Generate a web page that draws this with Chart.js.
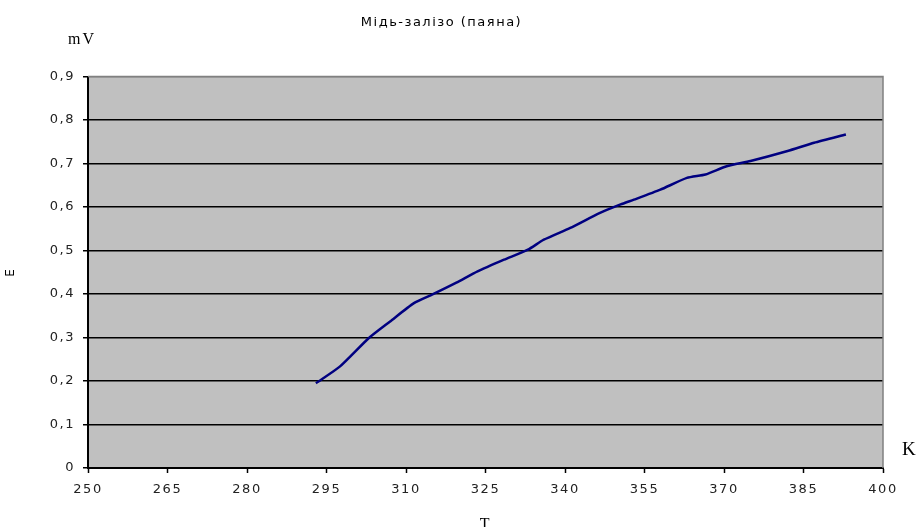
<!DOCTYPE html>
<html>
<head>
<meta charset="utf-8">
<script src="https://cdn.jsdelivr.net/npm/chart.js@4.4.0/dist/chart.umd.min.js"></script>
<style>
  html, body { margin: 0; padding: 0; background: #fff; }
  #wrap { width: 920px; height: 527px; }
</style>
</head>
<body>
<div id="wrap"><canvas id="chart" width="920" height="527"></canvas></div>
<script>
// Data
const temps = [293, 297.5, 303, 307, 311.5, 315, 319.5, 323.5, 328.5, 333, 336, 341, 346.5, 350.5, 353, 358, 363, 366.5, 370.5, 375, 382, 387, 393];
const emf = [0.195, 0.233, 0.299, 0.337, 0.379, 0.399, 0.426, 0.452, 0.479, 0.502, 0.525, 0.552, 0.586, 0.606, 0.617, 0.64, 0.667, 0.675, 0.694, 0.706, 0.729, 0.748, 0.767];
const xTicks = [250, 265, 280, 295, 310, 325, 340, 355, 370, 385, 400];
const yTickLabels = ['0', '0,1', '0,2', '0,3', '0,4', '0,5', '0,6', '0,7', '0,8', '0,9'];

// old-style wide text spacing
const spacing = {
  id: 'spacing',
  beforeLayout(chart) { chart.ctx.letterSpacing = '1.5px'; },
  beforeDraw(chart) { chart.ctx.letterSpacing = '1.5px'; }
};

// grey plot background, grey frame top/right, unit labels
const plotDecor = {
  id: 'plotDecor',
  beforeDraw(chart) {
    const { ctx, chartArea: a } = chart;
    ctx.save();
    ctx.fillStyle = '#c0c0c0';
    ctx.fillRect(a.left, a.top, a.right - a.left, a.bottom - a.top);
    ctx.restore();
  },
  afterDraw(chart) {
    const { ctx, chartArea: a } = chart;
    ctx.save();
    ctx.strokeStyle = '#808080';
    ctx.lineWidth = 1.5;
    ctx.beginPath();
    ctx.moveTo(a.left, a.top);
    ctx.lineTo(a.right, a.top);
    ctx.lineTo(a.right, a.bottom);
    ctx.stroke();
    ctx.fillStyle = '#000';
    ctx.textBaseline = 'middle';
    ctx.letterSpacing = '2px';
    ctx.font = '16px "Liberation Serif"';
    ctx.fillText('mV', 68, 40);
    ctx.font = '19px "Liberation Serif"';
    ctx.fillText('K', 902, 450);
    ctx.restore();
  }
};

new Chart(document.getElementById('chart').getContext('2d'), {
  type: 'line',
  data: {
    datasets: [{
      data: temps.map((t, i) => ({ x: t, y: emf[i] })),
      borderColor: '#000080',
      borderWidth: 2.5,
      pointRadius: 0,
      tension: 0.2,
      fill: false
    }]
  },
  options: {
    responsive: false,
    animation: false,
    layout: { padding: { top: 0, right: 37, left: 0, bottom: 0 } },
    plugins: {
      legend: { display: false },
      tooltip: { enabled: false },
      title: {
        display: true,
        text: 'Мідь-залізо (паяна)',
        color: '#000',
        font: { family: 'DejaVu Sans', size: 13, weight: 'normal' },
        padding: { top: 15, bottom: 46 }
      }
    },
    scales: {
      x: {
        type: 'linear',
        min: 250,
        max: 400,
        afterBuildTicks(scale) { scale.ticks = xTicks.map(v => ({ value: v })); },
        afterFit(scale) { scale.height = 59; },
        grid: { drawOnChartArea: false, drawTicks: true, tickLength: 5, tickColor: '#000', tickWidth: 1.5 },
        border: { color: '#000', width: 2 },
        ticks: { color: '#222', padding: 9, maxRotation: 0, font: { family: 'DejaVu Sans', size: 13 } },
        title: { display: true, text: 'T', color: '#000', font: { family: 'Liberation Serif', size: 16 }, padding: { top: 0, bottom: -7 } }
      },
      y: {
        min: 0,
        max: 0.9,
        afterBuildTicks(scale) { scale.ticks = yTickLabels.map((s, i) => ({ value: i / 10 })); },
        afterFit(scale) { scale.width = 88; },
        grid: {
          color: ctx => (ctx.tick && ctx.index === yTickLabels.length - 1) ? '#808080' : '#000',
          lineWidth: 1.5,
          tickLength: 5,
          tickColor: '#000',
          tickWidth: 1.5
        },
        border: { color: '#000', width: 2 },
        ticks: {
          color: '#222',
          padding: 8,
          font: { family: 'DejaVu Sans', size: 13 },
          callback: (v, i) => yTickLabels[i]
        },
        title: { display: true, text: 'E', color: '#000', font: { family: 'DejaVu Sans', size: 12 }, padding: { bottom: 4 } }
      }
    }
  },
  plugins: [spacing, plotDecor]
});
</script>
</body>
</html>
